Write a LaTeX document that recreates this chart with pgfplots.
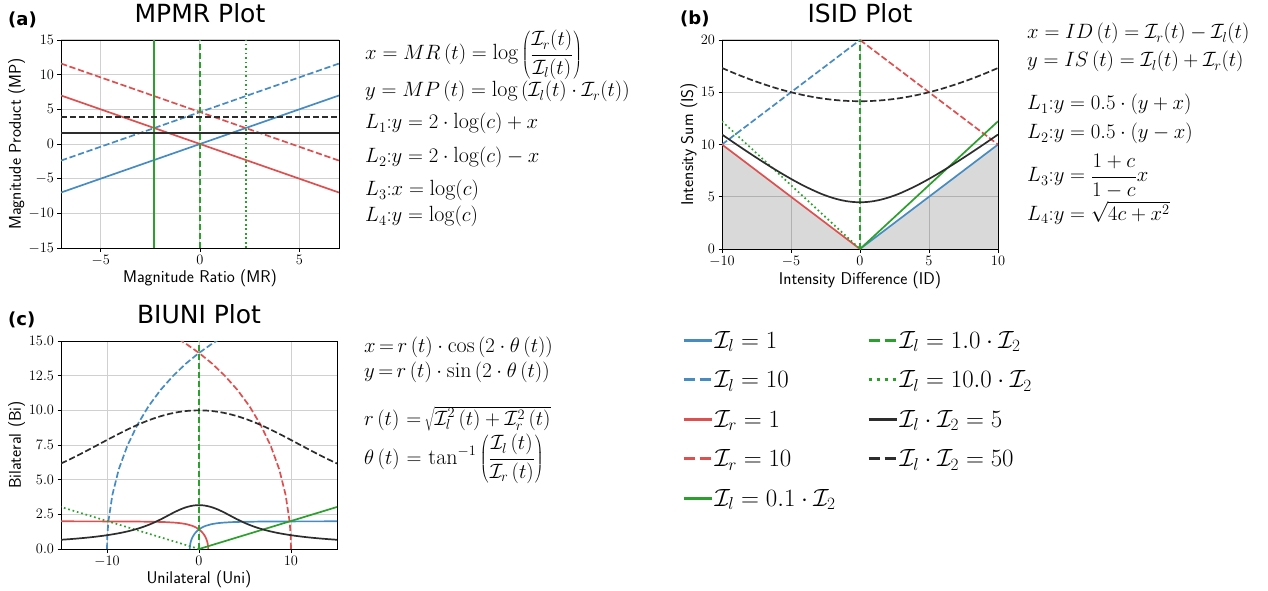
\documentclass[border=0pt]{standalone}
\usepackage{fontspec}
\usepackage{pgfplots}
\pgfplotsset{compat=1.18}
\newfontfamily\dejavu{DejaVu Sans}
\definecolor{cb}{RGB}{70,140,195}
\definecolor{cr}{RGB}{222,80,80}
\definecolor{cg}{RGB}{44,160,44}
\definecolor{ck}{RGB}{45,45,45}
\definecolor{gridc}{RGB}{208,208,208}
\pgfplotsset{
 panel/.style={scale only axis, anchor=south west, grid=major,
   grid style={gridc, line width=1pt},
   axis line style={black, line width=0.8pt},
   tick align=outside, tick pos=left, major tick length=3.5pt,
   tick style={black, line width=0.8pt},
   tick label style={font=\fontsize{13.5}{15}\selectfont},
   label style={font=\sffamily\fontsize{17}{19}\selectfont},
   xlabel style={at={(axis description cs:0.5,-0.168)}, anchor=base},
   title style={font=\dejavu\fontsize{25}{27}\selectfont, at={(axis description cs:0.5,1)}, anchor=base, yshift=11.5pt},
   clip=true},
 sl/.style={line width=1.7pt},
 dl/.style={line width=1.7pt, dash pattern=on 6.3pt off 2.7pt},
 tl/.style={line width=1.7pt, dash pattern=on 1.7pt off 2.8pt},
 legax/.style={hide axis, scale only axis, width=1pt, height=1pt, anchor=south west,
   xmin=0, xmax=1, ymin=0, ymax=1,
   legend style={at={(0,1)}, anchor=north west, draw=none, fill=none, inner sep=0pt,
     font=\fontsize{27}{30}\selectfont, row sep=21pt, column sep=1.5pt, nodes={inner sep=0pt}},
   legend cell align=left,
   legend image code/.code={\draw[##1] (0pt,0pt) -- (28pt,0pt);}},
}
\begin{document}
\begin{tikzpicture}[x=1pt,y=1pt]
\path[use as bounding box] (0pt,0pt) rectangle (1268pt,590pt);

% ---------------- (a) MPMR
\begin{axis}[panel, at={(61pt,342pt)}, width=278pt, height=208pt,
  xmin=-7, xmax=7, ymin=-15, ymax=15,
  xtick={-5,0,5}, ytick={-15,-10,-5,0,5,10,15},
  xlabel={Magnitude Ratio (MR)}, ylabel={Magnitude Product (MP)},
  ylabel style={at={(axis description cs:-0.144,0.5)}, anchor=base},
  title={MPMR Plot}]
\addplot[cb, sl] coordinates {(-7,-7) (7,7)};
\addplot[cb, dl] coordinates {(-7,-2.395) (7,11.605)};
\addplot[cr, sl] coordinates {(-7,7) (7,-7)};
\addplot[cr, dl] coordinates {(-7,11.605) (7,-2.395)};
\addplot[cg, sl] coordinates {(-2.303,-15) (-2.303,15)};
\addplot[cg, dl] coordinates {(0,-15) (0,15)};
\addplot[cg, tl] coordinates {(2.303,-15) (2.303,15)};
\addplot[ck, sl] coordinates {(-7,1.609) (7,1.609)};
\addplot[ck, dl] coordinates {(-7,3.912) (7,3.912)};
\end{axis}

% ---------------- (b) ISID
\begin{axis}[panel, at={(722pt,341pt)}, width=276pt, height=209pt,
  xmin=-10, xmax=10, ymin=0, ymax=20,
  xtick={-10,-5,0,5,10}, ytick={0,5,10,15,20},
  xlabel={Intensity Difference (ID)}, ylabel={Intensity Sum (IS)},
  ylabel style={at={(axis description cs:-0.105,0.5)}, anchor=base},
  title={ISID Plot}]
\addplot[draw=none, fill=black, fill opacity=0.15] coordinates {(-10,0) (-10,10) (0,0) (10,10) (10,0)} -- cycle;
\addplot[cb, sl] coordinates {(0,0) (10,10)};
\addplot[cb, dl] coordinates {(-10,10) (0,20)};
\addplot[cr, sl] coordinates {(-10,10) (0,0)};
\addplot[cr, dl] coordinates {(0,20) (10,10)};
\addplot[cg, sl] coordinates {(0,0) (10,12.222)};
\addplot[cg, dl] coordinates {(0,0) (0,20)};
\addplot[cg, tl] coordinates {(-10,12.222) (0,0)};
\addplot[ck, sl, smooth] coordinates {(-10,10.954) (-9,10.050) (-8,9.165) (-7,8.307) (-6,7.483) (-5,6.708) (-4,6.000) (-3,5.385) (-2.5,5.123) (-2,4.899) (-1.5,4.717) (-1,4.583) (-0.5,4.500) (0,4.472) (0.5,4.500) (1,4.583) (1.5,4.717) (2,4.899) (2.5,5.123) (3,5.385) (4,6.000) (5,6.708) (6,7.483) (7,8.307) (8,9.165) (9,10.050) (10,10.954)};
\addplot[ck, dl, smooth] coordinates {(-10,17.321) (-9,16.763) (-8,16.248) (-7,15.780) (-6,15.362) (-5,15.000) (-4,14.697) (-3,14.457) (-2,14.283) (-1,14.177) (0,14.142) (1,14.177) (2,14.283) (3,14.457) (4,14.697) (5,15.000) (6,15.362) (7,15.780) (8,16.248) (9,16.763) (10,17.321)};
\end{axis}

% ---------------- (c) BIUNI
\begin{axis}[panel, at={(61pt,41pt)}, width=276pt, height=208pt,
  xmin=-15, xmax=15, ymin=0, ymax=15,
  xtick={-10,0,10}, ytick={0,2.5,5,7.5,10,12.5,15},
  yticklabel style={/pgf/number format/.cd, fixed, fixed zerofill, precision=1},
  xlabel={Unilateral (Uni)}, ylabel={Bilateral (Bi)},
  ylabel style={at={(axis description cs:-0.145,0.5)}, anchor=base},
  title={BIUNI Plot}]
\addplot[cb, sl] coordinates {(-1,0) (-0.985,0.199) (-0.941,0.392) (-0.872,0.575) (-0.780,0.743) (-0.671,0.894) (-0.549,1.029) (-0.418,1.147) (-0.281,1.249) (-0.141,1.338) (0,1.414) (0.351,1.562) (0.693,1.664) (1.342,1.789) (1.950,1.857) (2.530,1.897) (3.638,1.940) (4.707,1.961) (6.788,1.980) (9.851,1.990) (15,1.996)};
\addplot[cb, dl] coordinates {(-10,0) (-9.963,0.999) (-9.85,1.99) (-9.41,3.92) (-8.72,5.75) (-7.80,7.43) (-6.71,8.94) (-5.49,10.29) (-4.18,11.47) (-2.81,12.49) (-1.41,13.38) (0,14.14) (1.413,14.80) (2.116,15.09) (3.51,15.62)};
\addplot[cr, sl] coordinates {(1,0) (0.985,0.199) (0.941,0.392) (0.872,0.575) (0.780,0.743) (0.671,0.894) (0.549,1.029) (0.418,1.147) (0.281,1.249) (0.141,1.338) (0,1.414) (-0.351,1.562) (-0.693,1.664) (-1.342,1.789) (-1.950,1.857) (-2.530,1.897) (-3.638,1.940) (-4.707,1.961) (-6.788,1.980) (-9.851,1.990) (-15,1.996)};
\addplot[cr, dl] coordinates {(10,0) (9.963,0.999) (9.85,1.99) (9.41,3.92) (8.72,5.75) (7.80,7.43) (6.71,8.94) (5.49,10.29) (4.18,11.47) (2.81,12.49) (1.41,13.38) (0,14.14) (-1.413,14.80) (-2.116,15.09) (-3.51,15.62)};
\addplot[cg, sl] coordinates {(0,0) (15,3.030)};
\addplot[cg, dl] coordinates {(0,0) (0,15)};
\addplot[cg, tl] coordinates {(0,0) (-15,3.030)};
\addplot[ck, sl, smooth] coordinates {(-15,0.666) (-14,0.713) (-13,0.768) (-12,0.831) (-11,0.906) (-10,0.995) (-9,1.103) (-8,1.235) (-7,1.401) (-6,1.610) (-5,1.873) (-4,2.192) (-3.5,2.367) (-3,2.543) (-2.5,2.712) (-2,2.863) (-1.5,2.990) (-1,3.084) (-0.5,3.143) (0,3.162) (0.5,3.143) (1,3.084) (1.5,2.990) (2,2.863) (2.5,2.712) (3,2.543) (3.5,2.367) (4,2.192) (5,1.873) (6,1.610) (7,1.401) (8,1.235) (9,1.103) (10,0.995) (11,0.906) (12,0.831) (13,0.768) (14,0.713) (15,0.666)};
\addplot[ck, dl, smooth] coordinates {(-15,6.166) (-14,6.482) (-13,6.813) (-12,7.157) (-11,7.508) (-10,7.862) (-9,8.209) (-8,8.544) (-7,8.858) (-6,9.144) (-5,9.396) (-4,9.608) (-3,9.778) (-2,9.901) (-1,9.975) (0,10) (1,9.975) (2,9.901) (3,9.778) (4,9.608) (5,9.396) (6,9.144) (7,8.858) (8,8.544) (9,8.209) (10,7.862) (11,7.508) (12,7.157) (13,6.813) (14,6.482) (15,6.166)};
\end{axis}

% ---------------- legends
\begin{axis}[legax, at={(682pt,258pt)}]
\addlegendimage{cb, line width=3pt}
\addlegendentry{$\mathcal{I}_l = 1$}
\addlegendimage{cb, line width=3pt, dash pattern=on 11pt off 4.8pt}
\addlegendentry{$\mathcal{I}_l = 10$}
\addlegendimage{cr, line width=3pt}
\addlegendentry{$\mathcal{I}_r = 1$}
\addlegendimage{cr, line width=3pt, dash pattern=on 11pt off 4.8pt}
\addlegendentry{$\mathcal{I}_r = 10$}
\addlegendimage{cg, line width=3pt}
\addlegendentry{$\mathcal{I}_l = 0.1\cdot\mathcal{I}_2$}
\end{axis}
\begin{axis}[legax, at={(867pt,258pt)}]
\addlegendimage{cg, line width=3pt, dash pattern=on 11pt off 4.8pt}
\addlegendentry{$\mathcal{I}_l = 1.0\cdot\mathcal{I}_2$}
\addlegendimage{cg, line width=3pt, dash pattern=on 3pt off 5pt}
\addlegendentry{$\mathcal{I}_l = 10.0\cdot\mathcal{I}_2$}
\addlegendimage{ck, line width=3pt}
\addlegendentry{$\mathcal{I}_l\cdot\mathcal{I}_2 = 5$}
\addlegendimage{ck, line width=3pt, dash pattern=on 11pt off 4.8pt}
\addlegendentry{$\mathcal{I}_l\cdot\mathcal{I}_2 = 50$}
\end{axis}

% ---------------- panel letters
\node[anchor=base west, inner sep=0pt, font=\dejavu\bfseries\fontsize{18}{20}\selectfont] at (8pt,564pt) {(a)};
\node[anchor=base west, inner sep=0pt, font=\dejavu\bfseries\fontsize{18}{20}\selectfont] at (680pt,565pt) {(b)};
\node[anchor=base west, inner sep=0pt, font=\dejavu\bfseries\fontsize{18}{20}\selectfont] at (8pt,265pt) {(c)};

% ---------------- formulas
\begin{scope}[every node/.style={anchor=base west, inner sep=0pt, font=\fontsize{22}{24}\selectfont}]
\node at (365pt,530pt) {$\displaystyle x = MR\left(t\right) = \log\left(\frac{\mathcal{I}_r(t)}{\mathcal{I}_l(t)}\right)$};
\node at (365pt,493pt) {$y = MP\left(t\right) = \log\left(\mathcal{I}_l(t)\cdot\mathcal{I}_r(t)\right)$};
\node at (365pt,461pt) {$L_1{:}y = 2\cdot\log(c) + x$};
\node at (365pt,427pt) {$L_2{:}y = 2\cdot\log(c) - x$};
\node at (365pt,394pt) {$L_3{:}x = \log(c)$};
\node at (365pt,368pt) {$L_4{:}y = \log(c)$};

\node at (1027pt,551pt) {$x = ID\left(t\right) = \mathcal{I}_r(t) - \mathcal{I}_l(t)$};
\node at (1027pt,523pt) {$y = IS\left(t\right) = \mathcal{I}_l(t) + \mathcal{I}_r(t)$};
\node at (1027pt,480pt) {$L_1{:}y = 0.5\cdot(y+x)$};
\node at (1027pt,451pt) {$L_2{:}y = 0.5\cdot(y-x)$};
\node at (1027pt,408pt) {$\displaystyle L_3{:}y = \frac{1+c}{1-c}x$};
\node at (1027pt,370pt) {$L_4{:}y = \sqrt{4c+x^2}$};
\end{scope}
\begin{scope}[every node/.style={anchor=base west, inner sep=0pt, font=\fontsize{22}{24}\selectfont}]
\node at (364pt,238pt) {$x\,{=}\,r\left(t\right)\cdot\cos\left(2\cdot\theta\left(t\right)\right)$};
\node at (364pt,213pt) {$y\,{=}\,r\left(t\right)\cdot\sin\left(2\cdot\theta\left(t\right)\right)$};
\node at (364pt,165pt) {$r\left(t\right)\,{=}\,\sqrt{\mathcal{I}_l^2\left(t\right)+\mathcal{I}_r^2\left(t\right)}$};
\node at (364pt,126pt) {$\displaystyle \theta\left(t\right)\,{=}\,\tan^{-1}\left(\frac{\mathcal{I}_l\left(t\right)}{\mathcal{I}_r\left(t\right)}\right)$};
\end{scope}
\end{tikzpicture}
\end{document}
